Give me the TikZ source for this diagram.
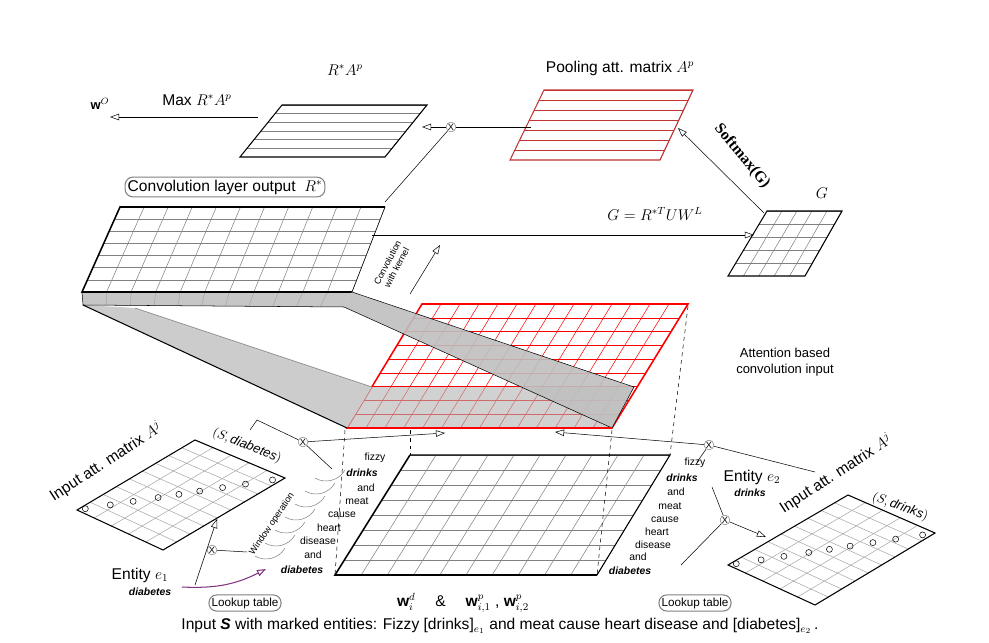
\documentclass[tikz,border=0pt]{standalone}
\usepackage{fontspec}
\setmainfont{Liberation Sans}
\newfontfamily\serifbold{Liberation Serif}
\usetikzlibrary{calc,arrows.meta}

\newcommand{\pgrid}[7]{% BL, BR, TR, TL, nx, ny, style
    \foreach \i in {1,...,#5}
        \draw[#7] ($(#1)!{\i/#5}!(#2)$) -- ($(#4)!{\i/#5}!(#3)$);
    \foreach \j in {1,...,#6}
        \draw[#7] ($(#1)!{\j/#6}!(#4)$) -- ($(#2)!{\j/#6}!(#3)$);
}

\tikzset{
    open/.style = {-{Triangle[open,length=7pt,width=5pt]}},
    cross/.style = {circle, draw=gray, fill=white, inner sep=0.3pt, font=\scriptsize},
    pill/.style = {draw=gray, rounded corners=6pt, inner sep=2pt, thick},
    word/.style = {font=\footnotesize, inner sep=0pt},
    ent/.style = {font=\footnotesize\bfseries\itshape, inner sep=0pt},
}

\begin{document}
\begin{tikzpicture}[x=0.77pt, y=-0.77pt]
    \useasboundingbox (0,0) rectangle (989,643);

    % R*A^p
    \coordinate (ra1) at (240,157); \coordinate (ra2) at (385,157);
    \coordinate (ra3) at (427,105); \coordinate (ra4) at (282,105);
    \pgrid{ra1}{ra2}{ra3}{ra4}{1}{6}{gray}
    \draw[thick] (ra1) -- (ra2) -- (ra3) -- (ra4) -- cycle;
    \node at (345,70) {\large $R^*A^p$};
    \node at (197,100) {\large Max $R^*A^p$};
    \node at (100,104) {$\mathbf{w}^O$};

    % Pooling matrix
    \coordinate (pa1) at (510,160); \coordinate (pa2) at (660,160);
    \coordinate (pa3) at (693,90); \coordinate (pa4) at (544,90);
    \pgrid{pa1}{pa2}{pa3}{pa4}{1}{7}{red!70!black!80}
    \draw[red!70!black!80, thick] (pa1) -- (pa2) -- (pa3) -- (pa4) -- cycle;
    \node at (620,68) {\large Pooling att. matrix $A^p$};

    \node[cross] (x0) at (451,127) {X};
    \draw[open] (x0) -- (422,127);
    \draw (x0) -- (531,127);
    \draw[open] (258,117) -- (110,117);

    % G
    \coordinate (g1) at (728,276); \coordinate (g2) at (805,276);
    \coordinate (g3) at (842,211); \coordinate (g4) at (767,211);
    \pgrid{g1}{g2}{g3}{g4}{5}{5}{gray}
    \draw[thick] (g1) -- (g2) -- (g3) -- (g4) -- cycle;
    \node at (822,193) {\large $G$};
    \draw[open] (764,213) -- (678,128);
    \node[rotate=-50, font=\large\serifbold\bfseries] at (742,156) {Softmax(G)};

    % convolution output
    \coordinate (c1) at (82,292); \coordinate (c2) at (352,292);
    \coordinate (c3) at (385,207); \coordinate (c4) at (120,207);
    \coordinate (cb1) at (83,305); \coordinate (cb2) at (344,307);
    \fill[gray!45] (c1) -- (c2) -- (cb2) -- (cb1) -- cycle;
    \pgrid{c1}{c2}{c3}{c4}{11}{7}{gray}
    \foreach \i in {1,...,10}
        \draw[gray!70] ($(c1)!{\i/11}!(c2)$) -- ($(cb1)!{\i/11}!(cb2)$);
    \draw[very thick] (c2) -- (c1) -- (c4) -- (c3);
    \draw (c3) -- (c2);
    \draw (385,202) -- (x0);
    \node[pill] at (225,187) {\large Convolution layer output \;$R^*$};
    \draw[open] (372,235) -- (754,235);
    \node at (655,214) {\large $G=R^{*T}UW^L$};
    \node[rotate=62, font=\scriptsize, align=center] at (392,265) {Convolution\\with kernel};
    \draw[open] (410,294) -- (440,245);

    % attention based input
    \coordinate (a1) at (347,428); \coordinate (a2) at (612,428);
    \coordinate (a3) at (688,304); \coordinate (a4) at (422,304);
    \pgrid{a1}{a2}{a3}{a4}{14}{9}{red}
    \draw[red, very thick] (a1) -- (a2) -- (a3) -- (a4) -- cycle;
    \fill[gray!40] (cb1) -- (135,308) -- (372,387) -- (a1) -- cycle;
    \fill[gray!60, opacity=0.6] (372,387) -- (634,387) -- (a2) -- (a1) -- cycle;
    \fill[gray!50, opacity=0.9] (c2) -- (634,387) -- (a2) -- (cb2) -- cycle;
    \draw[thick] (cb1) -- (a1);
    \draw[gray] (135,308) -- (372,387);
    \draw (c2) -- (634,387) -- (a2) -- (cb2) -- (cb1) -- (c1);
    \draw[red, very thick] (a1) -- (a2);
    \node[align=center, font=\normalsize] at (785,362) {Attention based\\convolution input};

    % word matrix
    \coordinate (w1) at (335,575); \coordinate (w2) at (597,575);
    \coordinate (w3) at (670,455); \coordinate (w4) at (410,455);
    \pgrid{w1}{w2}{w3}{w4}{10}{8}{gray}
    \draw[very thick] (w2) -- (w1) -- (w4);
    \draw[thick] (w4) -- (w3) -- (w2);
    \draw[dashed] (345,430) -- (335,575);
    \draw[dashed] (410,430) -- (410,455);
    \draw[dashed] (688,306) -- (670,455);
    \draw[dashed] (612,430) -- (597,575);
    \node[font=\large] at (463,603) {$\mathbf{w}_i^d$ \quad \& \quad $\mathbf{w}_{i,1}^p$ , $\mathbf{w}_{i,2}^p$};

    % words left
    \node[word] at (375,458) {fizzy};
    \node[ent] at (362,473) {drinks};
    \node[word] at (366,488) {and};
    \node[word] at (357,501) {meat};
    \node[word] at (342,515) {cause};
    \node[word] at (329,528) {heart};
    \node[word] at (318,541) {disease};
    \node[word] at (313,555) {and};
    \node[ent] at (302,570) {diabetes};
    \foreach \k in {0,...,6}
        \draw[gray] (345-10*\k,470+13*\k) arc (30:120:22);
    \node[rotate=56, font=\scriptsize] at (272,524) {Window operation};

    % words right
    \node[word] at (695,463) {fizzy};
    \node[ent] at (682,478) {drinks};
    \node[word] at (676,492) {and};
    \node[word] at (670,506) {meat};
    \node[word] at (665,520) {cause};
    \node[word] at (657,532) {heart};
    \node[word] at (653,545) {disease};
    \node[word] at (638,557) {and};
    \node[ent] at (630,571) {diabetes};

    % left input att matrix
    \coordinate (l1) at (77,510); \coordinate (l2) at (163,550);
    \coordinate (l3) at (285,478); \coordinate (l4) at (195,440);
    \pgrid{l1}{l2}{l3}{l4}{5}{9}{gray!70}
    \draw[thick] (l1) -- (l2) -- (l3) -- (l4) -- cycle;
    \foreach \t in {0.04,0.16,0.27,0.39,0.49,0.59,0.70,0.81,0.94}
        \draw ($(l1)!\t!(l3)$) circle (3);
    \node[rotate=33, font=\large] at (106,462) {Input att. matrix $A^j$};
    \node[rotate=-22] at (247,446) {$(S, \mathit{diabetes})$};
    \node[cross] (x1) at (303,442) {X};
    \draw (250,430) -- (257,420) -- (x1) -- (332,469);
    \draw[open] (x1) -- (445,433);
    \node[cross] (x2) at (212,550) {X};
    \draw[open] (195,585) -- (217,519);
    \draw (x2) -- (247,552);
    \node at (140,575) {\large Entity $e_1$};
    \node[ent] at (150,592) {diabetes};
    \draw[violet!60!gray, thick, open] (182,587) to[bend right=15] (266,569);
    \node[pill, font=\small] at (245,603) {Lookup table};

    % right input att matrix
    \coordinate (r1) at (728,565); \coordinate (r2) at (815,605);
    \coordinate (r3) at (935,533); \coordinate (r4) at (848,495);
    \pgrid{r1}{r2}{r3}{r4}{5}{9}{gray!70}
    \draw[thick] (r1) -- (r2) -- (r3) -- (r4) -- cycle;
    \foreach \t in {0.04,0.16,0.27,0.39,0.49,0.59,0.70,0.81,0.94}
        \draw ($(r1)!\t!(r3)$) circle (3);
    \node[rotate=33, font=\large] at (836,474) {Input att. matrix $A^j$};
    \node[rotate=-20] at (900,507) {$(S, \mathit{drinks})$};
    \node[cross] (x3) at (709,445) {X};
    \draw (815,472) -- (x3);
    \draw[open] (x3) -- (555,432);
    \draw (697,462) -- (x3);
    \node[cross] (x4) at (725,520) {X};
    \draw (712,487) -- (x4) -- (681,565);
    \draw[open] (x4) -- (766,537);
    \node at (752,477) {\large Entity $e_2$};
    \node[ent] at (750,493) {drinks};
    \node[pill, font=\small] at (695,603) {Lookup table};

    % caption
    \node[font=\large] at (500,626) {Input \textbf{\textit{S}} with marked entities: Fizzy [drinks]$_{e_1}$ and meat cause heart disease and [diabetes]$_{e_2}$\,.};
\end{tikzpicture}
\end{document}
